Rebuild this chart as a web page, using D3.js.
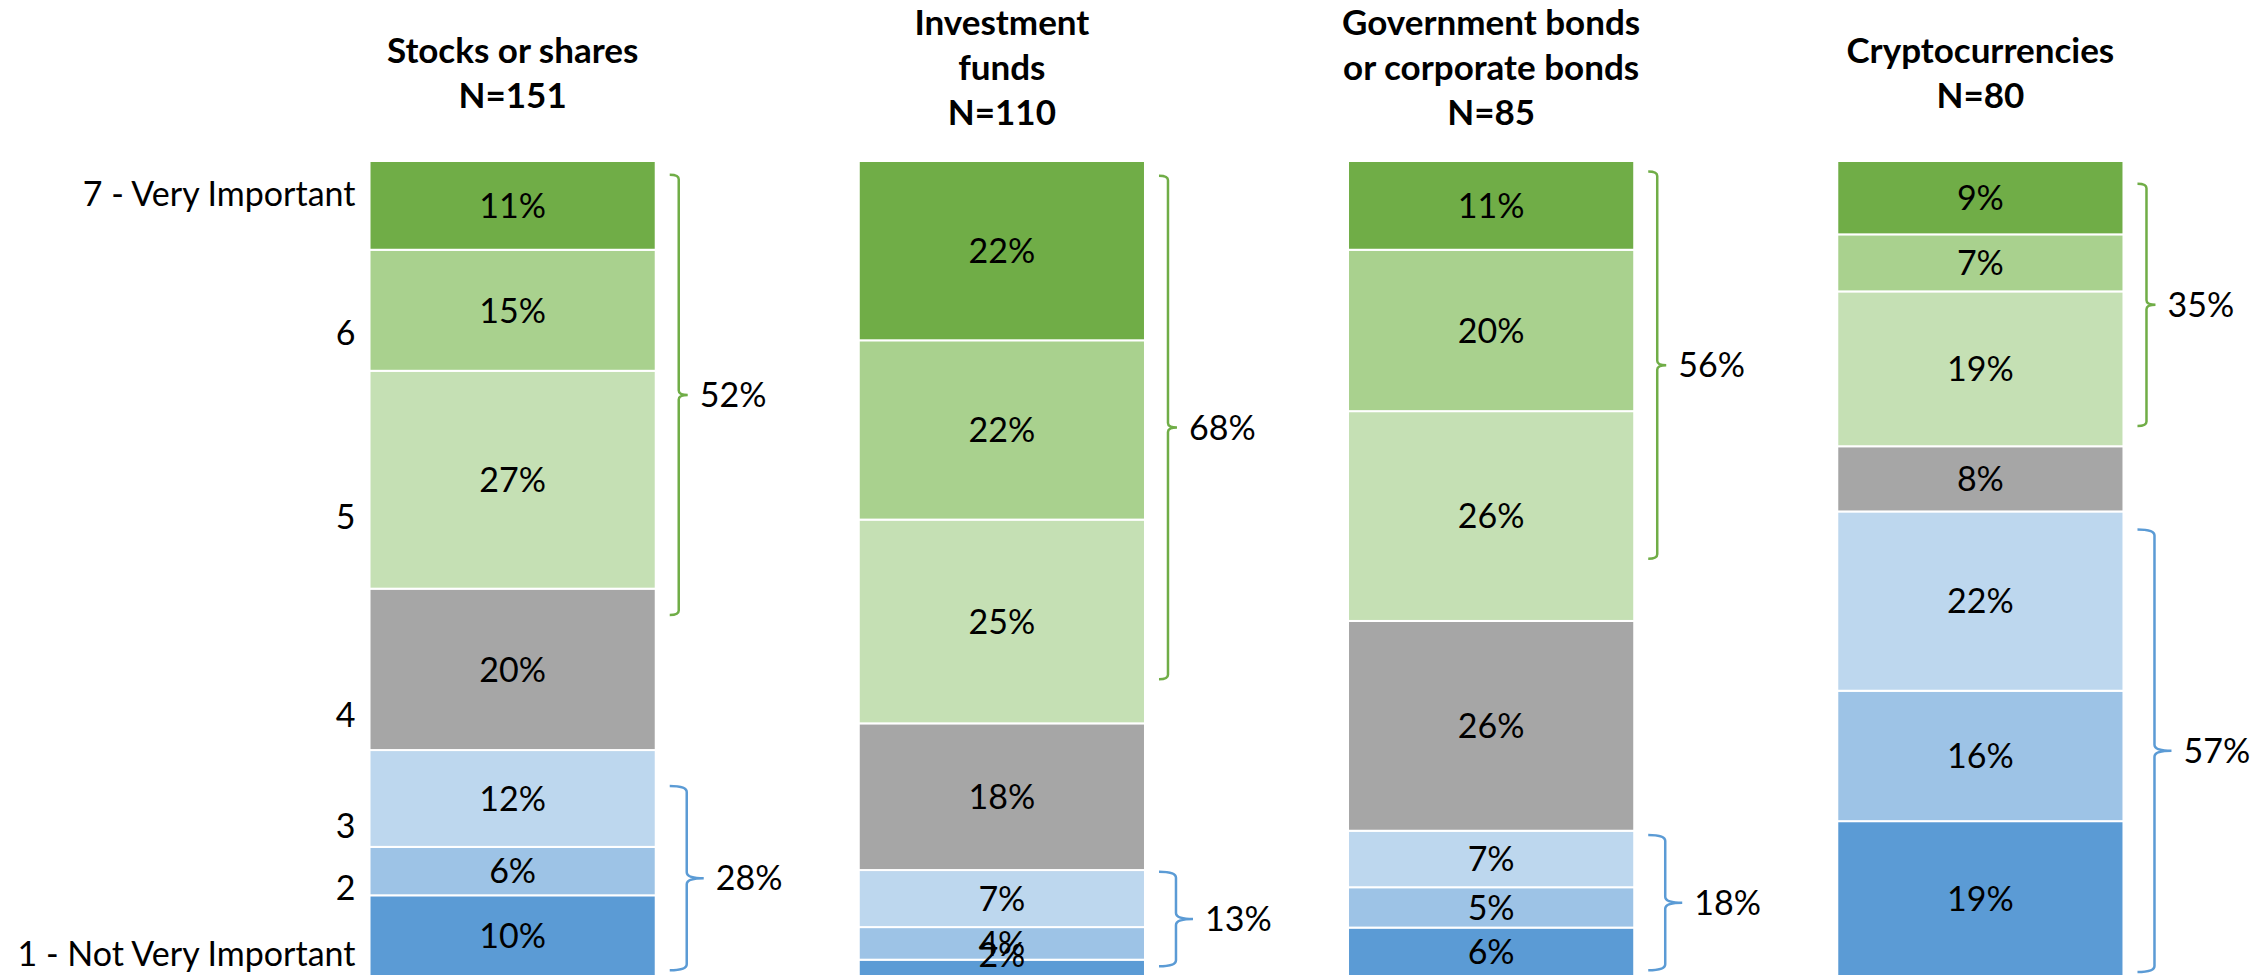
<!DOCTYPE html>
<html>
<head>
<meta charset="utf-8"/>
<script src="https://cdn.jsdelivr.net/npm/d3@7"></script>
<title>Importance by investment type</title>
<style>
body { margin: 0; background: #fff; }
text { font-family: Lato, "Open Sans", sans-serif; fill: #000; }
.title { font-size: 35px; font-weight: bold; }
.lbl { font-size: 34px; }
</style>
</head>
<body>
<svg width="2250" height="976"></svg>
<script>
// categories
var assets = ["Stocks or shares", "Investment funds", "Government bonds or corporate bonds", "Cryptocurrencies"];
var titleLines = [["Stocks or shares"], ["Investment", "funds"], ["Government bonds", "or corporate bonds"], ["Cryptocurrencies"]];
var sampleSizes = [151, 110, 85, 80];
var levels = ["1 - Not Very Important", "2", "3", "4", "5", "6", "7 - Very Important"];

// share of answers per level (%), one value per asset
var level1 = [10, 2, 6, 19];
var level2 = [6, 4, 5, 16];
var level3 = [12, 7, 7, 22];
var level4 = [20, 18, 26, 8];
var level5 = [27, 25, 26, 19];
var level6 = [15, 22, 20, 7];
var level7 = [11, 22, 11, 9];

// where the level names sit on the 0..1 axis
var levelLabelAt = [0.027, 0.108, 0.184, 0.32, 0.563, 0.789, 0.96];

// summary brackets: top box (5-7) and bottom box (1-3)
var topBox = [52, 68, 56, 35];
var bottomBox = [28, 13, 18, 57];
var topSpan = [[0.443, 0.983], [0.364, 0.982], [0.512, 0.987], [0.675, 0.972]];
var bottomSpan = [[0.007, 0.233], [0.012, 0.128], [0.007, 0.173], [0.005, 0.548]];

var colors = ["#5B9BD5", "#9DC3E6", "#BDD7EE", "#A6A6A6", "#C5E0B4", "#A9D18E", "#70AD47"];
var green = "#70AD47", blue = "#5B9BD5";

var series = [level1, level2, level3, level4, level5, level6, level7];
var rows = assets.map(function(a, i) {
  var r = { asset: a };
  levels.forEach(function(l, j) { r[l] = series[j][i]; });
  return r;
});

var svg = d3.select("svg"),
    height = +svg.attr("height");

var x = d3.scaleBand()
    .domain(assets)
    .range([268, 2225])
    .paddingInner(0.415)
    .paddingOuter(0.2075);

var y = d3.scaleLinear().domain([0, 1]).range([height, 161]);

var color = d3.scaleOrdinal().domain(levels).range(colors);

var stacked = d3.stack()
    .keys(levels)
    .offset(d3.stackOffsetExpand)(rows);

// bars
svg.append("g").selectAll("g")
  .data(stacked)
  .join("g")
    .attr("fill", function(d) { return color(d.key); })
  .selectAll("rect")
  .data(function(d) { return d; })
  .join("rect")
    .attr("x", function(d) { return x(d.data.asset); })
    .attr("y", function(d) { return y(d[1]); })
    .attr("width", x.bandwidth())
    .attr("height", function(d) { return y(d[0]) - y(d[1]); })
    .attr("stroke", "#fff")
    .attr("stroke-width", 2);

// value labels on top of all bars, kept inside the plot
var cells = [];
stacked.forEach(function(s) {
  s.forEach(function(v) { cells.push({ v: v, key: s.key }); });
});

svg.append("g").selectAll("text")
  .data(cells)
  .join("text")
    .attr("class", "lbl")
    .attr("text-anchor", "middle")
    .attr("dy", "0.36em")
    .attr("x", function(d) { return x(d.v.data.asset) + x.bandwidth() / 2; })
    .attr("y", function(d) { return Math.min((y(d.v[0]) + y(d.v[1])) / 2, height - 21); })
    .text(function(d) { return d.v.data[d.key] + "%"; });

// level names on the left
svg.append("g").selectAll("text")
  .data(levels)
  .join("text")
    .attr("class", "lbl")
    .attr("text-anchor", "end")
    .attr("dy", "0.36em")
    .attr("x", x(assets[0]) - 14)
    .attr("y", function(d, i) { return y(levelLabelAt[i]); })
    .text(function(d) { return d; });

// titles
var titles = svg.append("g").selectAll("text")
  .data(assets)
  .join("text")
    .attr("class", "title")
    .attr("text-anchor", "middle")
    .attr("y", function(d, i) { return titleLines[i].length > 1 ? 35 : 63; });

titles.selectAll("tspan")
  .data(function(d, i) { return titleLines[i].concat(["N=" + sampleSizes[i]]); })
  .join("tspan")
    .attr("x", function() { return x(d3.select(this.parentNode).datum()) + x.bandwidth() / 2; })
    .attr("dy", function(d, i) { return i ? 45 : 0; })
    .text(function(d) { return d; });

// braces
function brace(x0, depth, yTop, yBot) {
  var x1 = x0 + depth, x2 = x1 + depth, ym = (yTop + yBot) / 2, r = Math.min(6, depth / 2);
  var p = d3.path();
  p.moveTo(x0, yTop);
  p.quadraticCurveTo(x1, yTop, x1, yTop + r);
  p.lineTo(x1, ym - r);
  p.quadraticCurveTo(x1, ym, x2, ym);
  p.quadraticCurveTo(x1, ym, x1, ym + r);
  p.lineTo(x1, yBot - r);
  p.quadraticCurveTo(x1, yBot, x0, yBot);
  return p.toString();
}

var groups = [
  { values: topBox, spans: topSpan, stroke: green, depth: 9 },
  { values: bottomBox, spans: bottomSpan, stroke: blue, depth: 17 }
];

groups.forEach(function(g) {
  var sel = svg.append("g");
  sel.selectAll("path")
    .data(assets)
    .join("path")
      .attr("fill", "none")
      .attr("stroke", g.stroke)
      .attr("stroke-width", 2.5)
      .attr("d", function(a, i) {
        return brace(x(a) + x.bandwidth() + 14, g.depth, y(g.spans[i][1]), y(g.spans[i][0]));
      });
  sel.selectAll("text")
    .data(assets)
    .join("text")
      .attr("class", "lbl")
      .attr("dy", "0.36em")
      .attr("x", function(a) { return x(a) + x.bandwidth() + 14 + 2 * g.depth + 12; })
      .attr("y", function(a, i) { return (y(g.spans[i][0]) + y(g.spans[i][1])) / 2; })
      .text(function(a, i) { return g.values[i] + "%"; });
});
</script>
</body>
</html>
